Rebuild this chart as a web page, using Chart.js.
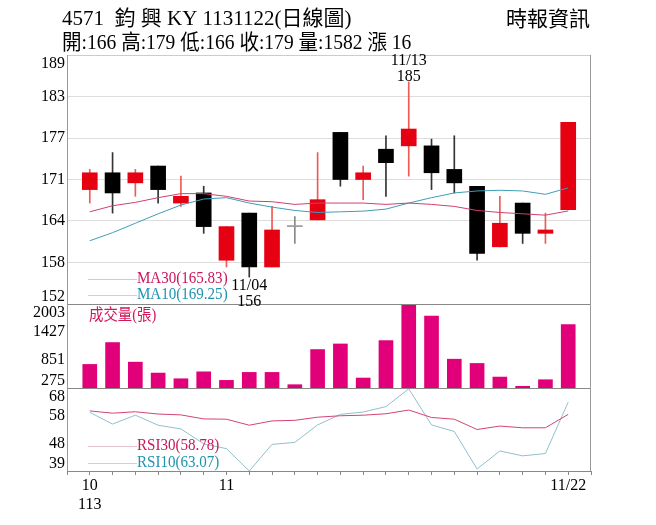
<!DOCTYPE html>
<html>
<head>
<meta charset="utf-8">
<script src="https://cdn.jsdelivr.net/npm/chart.js@4.4.1/dist/chart.umd.min.js"></script>
<style>
  body { margin: 0; background: #fff; }
  #c { display: block; }
</style>
</head>
<body>
<canvas id="c" width="656" height="525"></canvas>
<script>
// 4571 鈞興-KY daily candles, 113/10/23 - 113/11/22
const dates  = ['10/23','10/24','10/25','10/28','10/29','10/30','11/01','11/04','11/05','11/06','11/07',
                '11/08','11/11','11/12','11/13','11/14','11/15','11/18','11/19','11/20','11/21','11/22'];
const opens  = [169, 171.5, 170, 172.5, 167, 168.5, 158.5, 165.5, 157.5, 163.5, 164.5,
                177.5, 170.5, 175, 175.5, 175.5, 172, 169.5, 160.5, 167, 162.5, 166];
const highs  = [172, 174.5, 172, 172.5, 171, 169.5, 163.5, 165.5, 166.5, 165, 174.5,
                177.5, 172.5, 177, 185, 176.5, 177, 169.5, 168, 167, 165.5, 179];
const lows   = [167, 165.5, 168, 167, 166.5, 162.5, 157.5, 156, 157.5, 161, 164.5,
                169.5, 167.5, 168, 171, 169, 168.5, 158.5, 160.5, 161, 161, 166];
const closes = [171.5, 168.5, 171.5, 169, 168, 163.5, 163.5, 157.5, 163, 163.5, 167.5,
                170.5, 171.5, 173, 178, 171.5, 170, 159.5, 164, 162.5, 163, 179];
const volumes = [760, 1210, 807, 582, 465, 608, 432, 596, 596, 343, 1066,
                 1181, 480, 1250, 2003, 1754, 868, 780, 500, 310, 445, 1582];
const ma30 = [165.7, 166.6, 167.1, 167.8, 168.4, 168.4, 168.0, 167.3, 167.2, 166.8, 167.0,
              167.0, 167.0, 166.8, 167.0, 166.8, 166.5, 165.9, 165.6, 165.4, 165.2, 165.83];
const ma10 = [161.4, 162.6, 164.0, 165.4, 166.7, 167.6, 167.8, 167.0, 166.4, 165.9, 165.6,
              165.7, 165.8, 166.1, 167.0, 167.8, 168.5, 168.8, 168.9, 168.8, 168.3, 169.25];
const rsi30 = [60.0, 59.2, 59.7, 58.9, 58.6, 57.2, 57.1, 55.0, 56.5, 56.7, 57.8,
               58.3, 58.5, 59.0, 60.3, 57.7, 57.1, 53.5, 54.7, 54.1, 54.1, 58.78];
const rsi10 = [59.5, 55.4, 58.5, 55.0, 53.7, 48.5, 46.8, 39.0, 48.3, 49.0, 55.1,
               58.8, 59.6, 61.5, 67.7, 55.1, 52.8, 39.7, 46.0, 44.3, 45.1, 63.07];

// axis tick labels (evenly spaced between each panel's min and max)
const priceTicks = ['152', '158', '164', '171', '177', '183', '189'];
const volTicks = ['275', '851', '1427', '2003'];
const rsiTicks = ['39', '48', '58', '68'];
const rocYear = '113';

const RED = '#e50012', BLACK = '#000000', DOJI = '#999999';
const SERIF = '"Liberation Serif", "Noto Sans CJK TC", serif';

const pad = a => [null, ...a, null];
const catLabels = ['', ...dates, ''];
const upDown = dates.map((d, i) => closes[i] > opens[i] ? RED : closes[i] < opens[i] ? BLACK : DOJI);
const wickCol = upDown.map(c => c === RED ? '#ee5a55' : c === BLACK ? '#333333' : '#888888');
const last = dates.length - 1;

function evenTicks(labels) {
  return scale => {
    const n = labels.length;
    scale.ticks = labels.map((l, i) => ({ value: scale.min + i * (scale.max - scale.min) / (n - 1) }));
  };
}
function fixWidth(scale) { scale.width = 67; }

// text helper; sx squeezes the text horizontally a bit like the original's narrow font
function txt(ctx, s, x, y, color, align, size, base, sx) {
  ctx.save();
  ctx.font = (size || 16) + 'px ' + SERIF;
  ctx.fillStyle = color;
  ctx.textAlign = align || 'left';
  ctx.textBaseline = base || 'middle';
  ctx.translate(x, y);
  ctx.scale(sx || 1, 1);
  ctx.fillText(s, 0, 0);
  ctx.restore();
}
function hline(ctx, x1, x2, y, color) {
  ctx.save();
  ctx.strokeStyle = color; ctx.lineWidth = 1;
  ctx.beginPath(); ctx.moveTo(x1, Math.round(y) + 0.5); ctx.lineTo(x2, Math.round(y) + 0.5); ctx.stroke();
  ctx.restore();
}

const overlay = {
  id: 'overlay',
  afterDraw(chart) {
    const { ctx, chartArea: a, scales } = chart;
    const x = scales.x, yp = scales.y, yv = scales.yv, yr = scales.yr;

    // frame and panel separators
    hline(ctx, a.left, a.right, a.top, '#cccccc');
    hline(ctx, a.left, a.right, yp.bottom, '#888888');
    hline(ctx, a.left, a.right, yv.bottom, '#888888');
    hline(ctx, a.left, a.right, a.bottom, '#888888');
    ctx.save();
    ctx.strokeStyle = '#999999';
    ctx.beginPath();
    ctx.moveTo(a.left + 0.5, a.top); ctx.lineTo(a.left + 0.5, a.bottom);
    ctx.moveTo(a.right - 0.5, a.top); ctx.lineTo(a.right - 0.5, a.bottom);
    ctx.stroke();
    ctx.restore();

    // y tick labels, kept inside their own panel
    [[yp, priceTicks], [yv, volTicks], [yr, rsiTicks]].forEach(([s, labels]) => {
      s.ticks.forEach((t, i) => {
        const py = Math.min(Math.max(s.getPixelForValue(t.value), s.top + 9), s.bottom - 7);
        txt(ctx, labels[i], a.left - 2, py, '#000', 'right');
      });
    });

    // high / low markers
    const hi = highs.indexOf(Math.max(...highs));
    const lo = lows.indexOf(Math.min(...lows));
    const hx = x.getPixelForValue(hi + 1), hy = yp.getPixelForValue(highs[hi]);
    txt(ctx, dates[hi], hx, hy - 13, '#000', 'center', 16, 'bottom');
    txt(ctx, String(highs[hi]), hx, hy + 3, '#000', 'center', 16, 'bottom');
    const lx = x.getPixelForValue(lo + 1), ly = yp.getPixelForValue(lows[lo]);
    txt(ctx, dates[lo], lx, ly + 1, '#000', 'center', 16, 'top');
    txt(ctx, String(lows[lo]), lx, ly + 17, '#000', 'center', 16, 'top');

    // in-panel legends
    const lx0 = a.left + 21, tx0 = a.left + 70;
    hline(ctx, lx0, tx0, yp.bottom - 25, '#e6c2cd');
    txt(ctx, 'MA30(' + ma30[last].toFixed(2) + ')', tx0, yp.bottom - 25, '#c8175d', 'left', 16, 'middle', 0.94);
    hline(ctx, lx0, tx0, yp.bottom - 9, '#bfd7e0');
    txt(ctx, 'MA10(' + ma10[last].toFixed(2) + ')', tx0, yp.bottom - 9, '#1f93b0', 'left', 16, 'middle', 0.94);
    txt(ctx, '成交量(張)', lx0 + 1, yv.top + 12, '#d4145a', 'left', 16, 'middle', 0.9);
    hline(ctx, lx0, tx0, yr.bottom - 25, '#e6c2cd');
    txt(ctx, 'RSI30(' + rsi30[last].toFixed(2) + ')', tx0, yr.bottom - 25, '#c8175d', 'left', 16, 'middle', 0.94);
    hline(ctx, lx0, tx0, yr.bottom - 8, '#bfd7e0');
    txt(ctx, 'RSI10(' + rsi10[last].toFixed(2) + ')', tx0, yr.bottom - 8, '#1f93b0', 'left', 16, 'middle', 0.94);

    // header
    const chg = closes[last] - closes[last - 1];
    txt(ctx, '4571  鈞 興 KY 1131122(日線圖)', 62, 19, '#000', 'left', 21);
    txt(ctx, '開:' + opens[last] + ' 高:' + highs[last] + ' 低:' + lows[last] + ' 收:' + closes[last] +
             ' 量:' + volumes[last] + ' 漲 ' + chg, 62, 43, '#000', 'left', 21, 'middle', 0.93);
    txt(ctx, '時報資訊', 590, 20, '#000', 'right', 21);
  }
};

new Chart(document.getElementById('c'), {
  type: 'bar',
  data: {
    labels: catLabels,
    datasets: [
      { type: 'line', data: pad(ma30), yAxisID: 'y', borderColor: '#d0406e', borderWidth: 1,
        pointRadius: 0, order: 0 },
      { type: 'line', data: pad(ma10), yAxisID: 'y', borderColor: '#3f9db6', borderWidth: 1,
        pointRadius: 0, order: 0 },
      { data: pad(opens.map((o, i) => [Math.min(o, closes[i]), Math.max(o, closes[i])])),
        yAxisID: 'y', backgroundColor: pad(upDown), barThickness: 15, minBarLength: 1,
        grouped: false, order: 1 },
      { data: pad(lows.map((l, i) => [l, highs[i]])), yAxisID: 'y',
        backgroundColor: pad(wickCol), barThickness: 1, grouped: false, order: 2 },
      { data: pad(volumes), yAxisID: 'yv', backgroundColor: '#e2007a', barThickness: 14,
        grouped: false, order: 1 },
      { type: 'line', data: pad(rsi30), yAxisID: 'yr', borderColor: '#d24474', borderWidth: 1,
        pointRadius: 0, order: 0 },
      { type: 'line', data: pad(rsi10), yAxisID: 'yr', borderColor: '#93bfcc', borderWidth: 1,
        pointRadius: 0, order: 0 }
    ]
  },
  options: {
    responsive: false,
    animation: false,
    devicePixelRatio: 1,
    layout: { padding: { top: 55, right: 65, bottom: 0, left: 0 } },
    plugins: { legend: { display: false }, tooltip: { enabled: false } },
    scales: {
      x: {
        offset: false,
        grid: { offset: false, drawOnChartArea: false, tickLength: 4, color: '#888' },
        border: { display: false },
        ticks: {
          autoSkip: false, maxRotation: 0, padding: 1, color: '#000',
          font: { family: SERIF, size: 16 },
          callback: (v, i) => {
            const d = catLabels[i];
            if (!d) return '';
            const k = i - 1;
            const month = String(+d.split('/')[0]);
            if (k === 0) return [month, rocYear];
            if (k === last) return d;
            if (d.split('/')[0] !== dates[k - 1].split('/')[0]) return month;
            return '';
          }
        },
        afterFit: s => { s.height = 54; }
      },
      y: {
        position: 'left', stack: 'panels', stackWeight: 249, weight: 3,
        min: 152, max: 189,
        grid: { color: '#dddddd', drawTicks: false },
        border: { display: false },
        ticks: { display: false },
        afterBuildTicks: evenTicks(priceTicks),
        afterFit: fixWidth
      },
      yv: {
        position: 'left', stack: 'panels', stackWeight: 84, weight: 2,
        min: 275, max: 2003,
        grid: { display: false },
        border: { display: false },
        ticks: { display: false },
        afterBuildTicks: evenTicks(volTicks),
        afterFit: fixWidth
      },
      yr: {
        position: 'left', stack: 'panels', stackWeight: 83, weight: 1,
        min: 39, max: 68,
        grid: { display: false },
        border: { display: false },
        ticks: { display: false },
        afterBuildTicks: evenTicks(rsiTicks),
        afterFit: fixWidth
      }
    }
  },
  plugins: [overlay]
});
</script>
</body>
</html>
